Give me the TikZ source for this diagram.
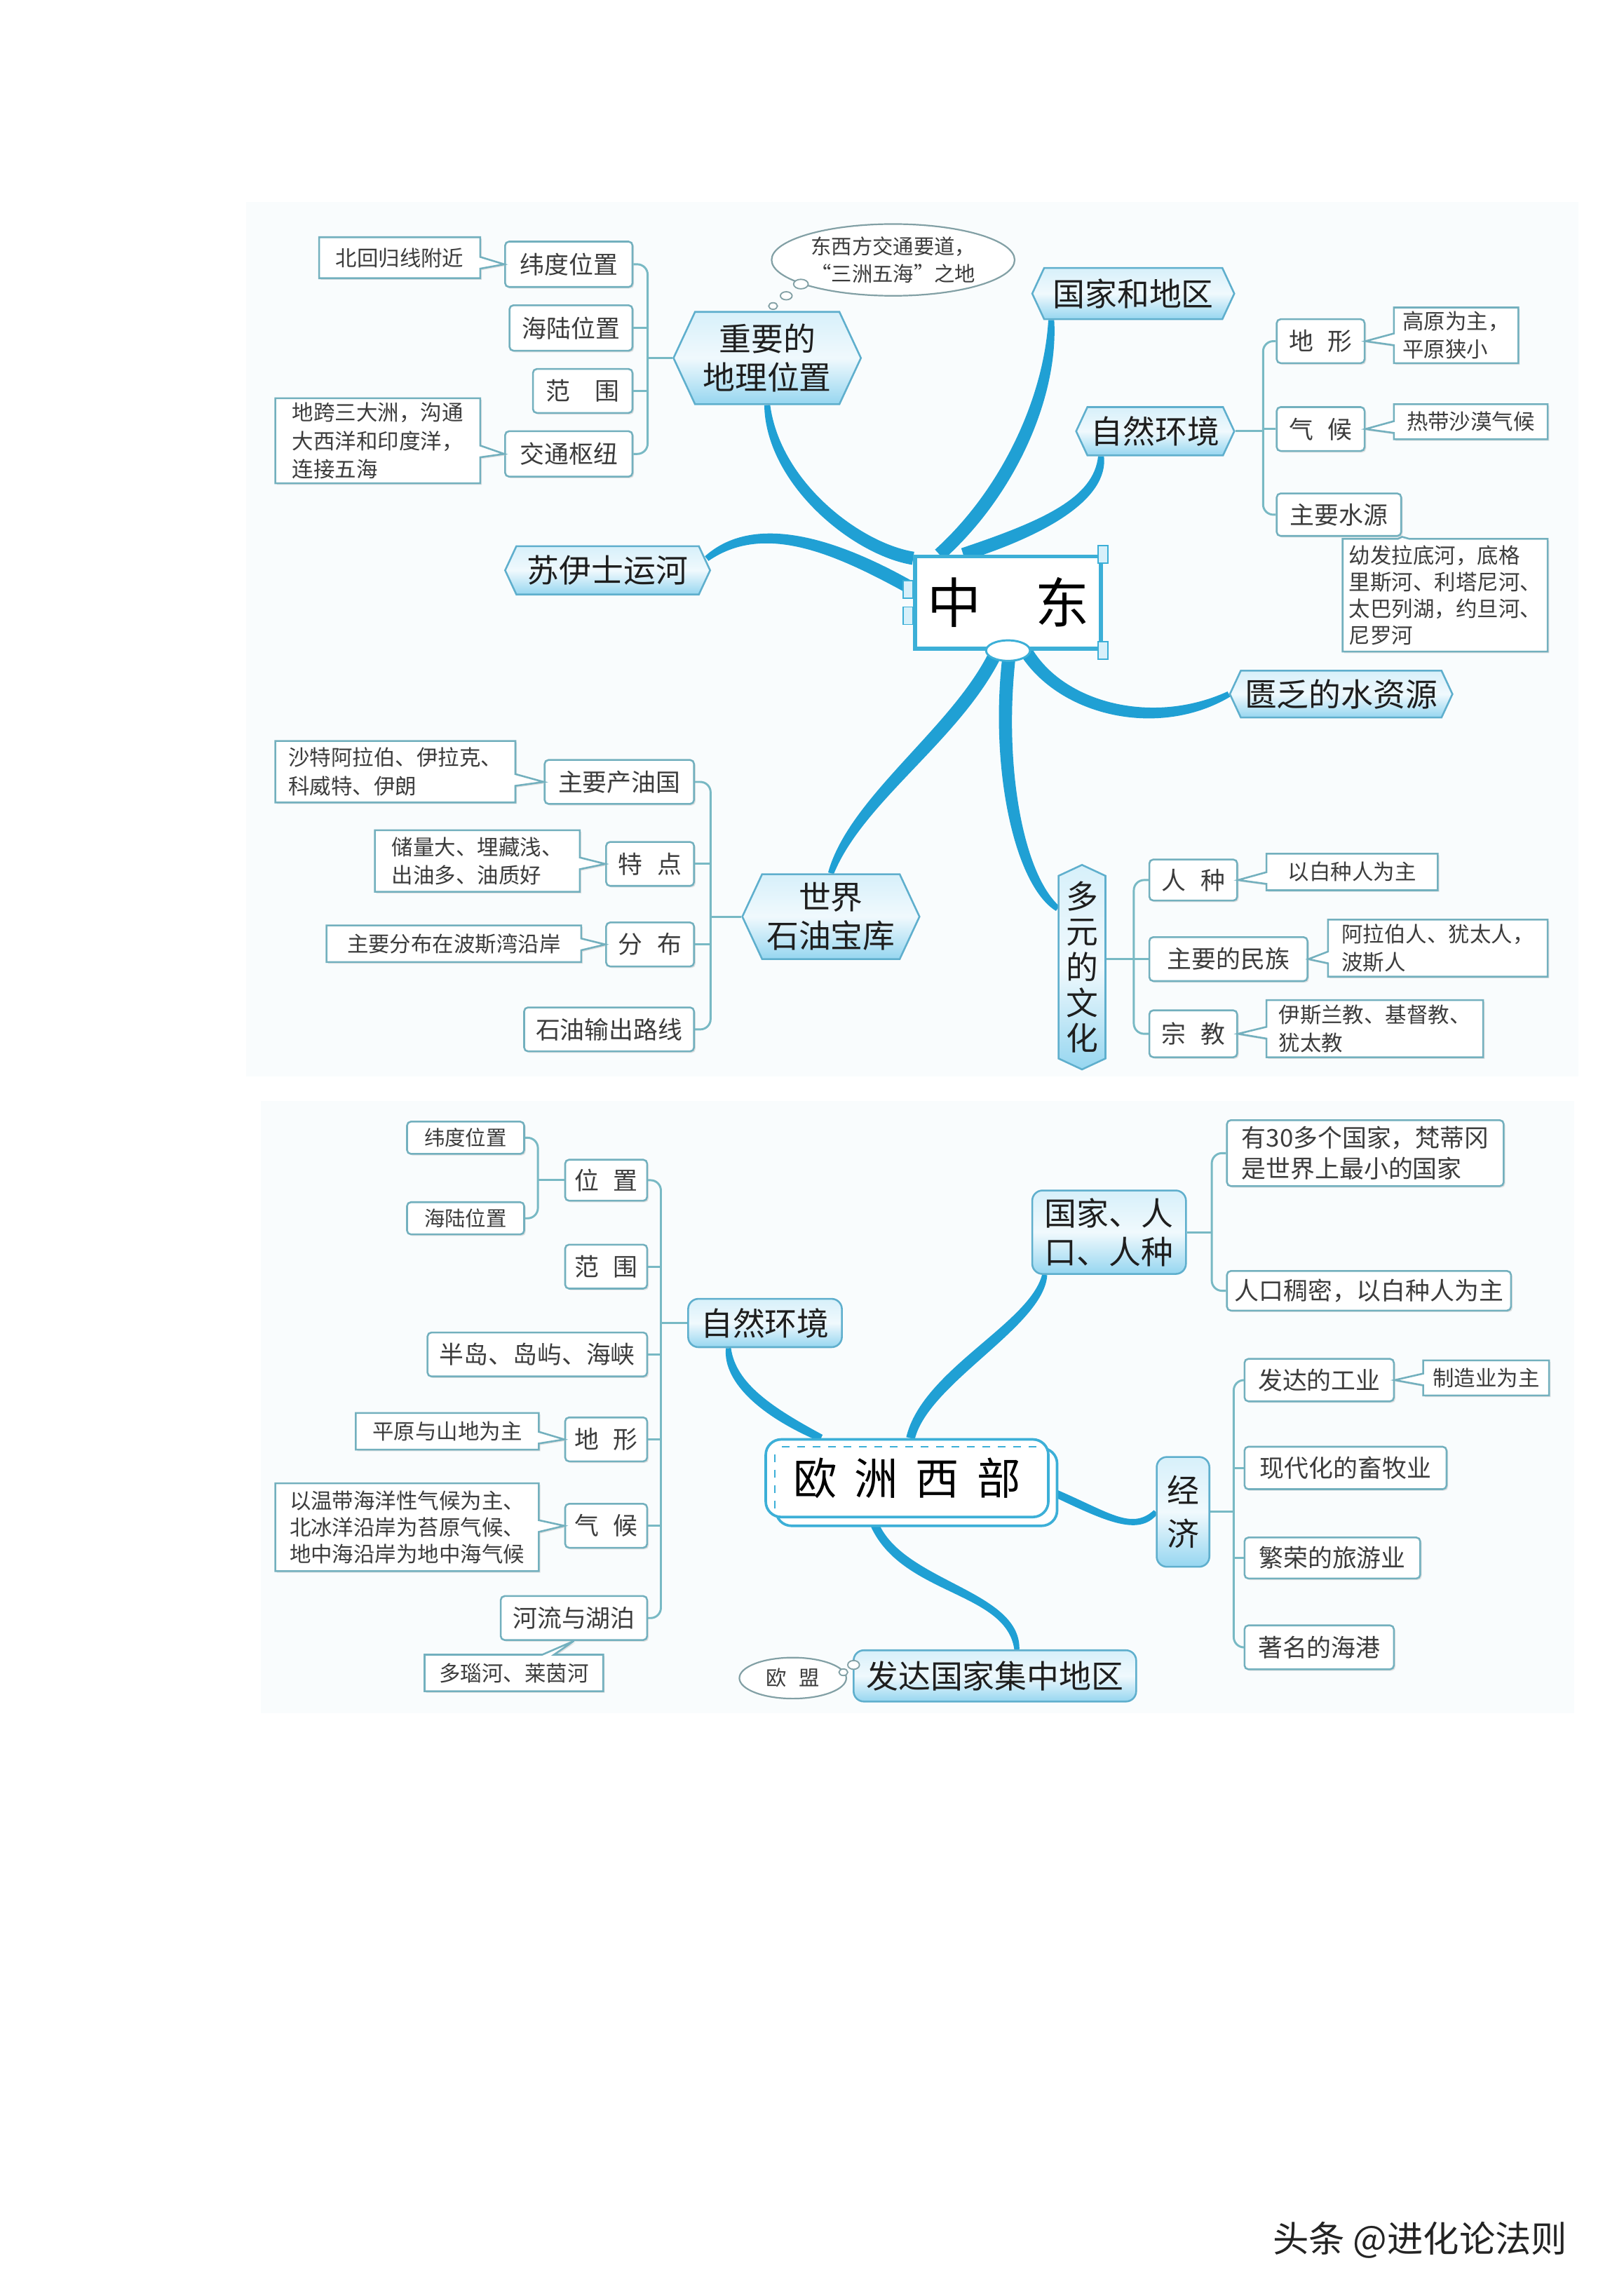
\documentclass[tikz,border=0pt]{standalone}
\usepackage{fontspec}
\newfontfamily\cjk{Noto Sans CJK SC}
\usetikzlibrary{calc,shapes.callouts,shapes.symbols,shapes.geometric,shadows}
\pgfdeclarelayer{bg}
\pgfsetlayers{bg,main}
\newcommand\myfs[2]{\fontsize{#1}{#2}\selectfont}
\definecolor{brc}{RGB}{32,160,212}
\definecolor{bxc}{RGB}{115,176,190}
\definecolor{lnc}{RGB}{120,185,196}
\definecolor{txc}{RGB}{60,60,60}
\definecolor{hdc}{RGB}{30,30,30}
\definecolor{hxd}{RGB}{95,175,205}
\definecolor{hxt}{RGB}{215,240,250}
\definecolor{hxm}{RGB}{240,249,253}
\definecolor{hxb}{RGB}{150,214,240}
\definecolor{cen}{RGB}{60,175,215}
\definecolor{pnl}{RGB}{249,252,253}
\definecolor{bbc}{RGB}{130,160,165}
% tapered branch: A C1 C2 B halfwidthA halfwidthMid halfwidthB
\newcommand\tbranch[7]{%
  \fill[brc] ($(#1)!#5!90:(#2)$) .. controls ($(#2)!#6!90:(#3)$) and ($(#3)!#6!90:(#4)$) .. ($(#4)!#7!-90:(#3)$)
    -- ($(#4)!#7!90:(#3)$) .. controls ($(#3)!#6!-90:(#4)$) and ($(#2)!#6!-90:(#3)$) .. ($(#1)!#5!-90:(#2)$) -- cycle;}
\begin{document}
\begin{tikzpicture}[x=0.02cm,y=-0.02cm,
  mw/.style={minimum width=#1*0.02cm},
  mh/.style={minimum height=#1*0.02cm},
  sbox/.style={rectangle, rounded corners=1.5pt, draw=bxc, line width=0.7pt, fill=white, inner sep=0pt,
    align=center, font=\cjk\myfs{9.5}{12}, text=txc,
    drop shadow={shadow xshift=0.6pt, shadow yshift=-0.6pt, fill=black!22}},
  sboxs/.style={sbox, font=\cjk\myfs{8}{10}},
  cbox/.style={rectangle callout, draw=bxc, line width=0.7pt, fill=white, inner sep=0pt, align=left,
    font=\cjk\myfs{8.3}{11}, text=txc, callout pointer width=0.16cm,
    drop shadow={shadow xshift=0.6pt, shadow yshift=-0.6pt, fill=black!22}},
  hexn/.style={signal, signal to=west and east, signal pointer angle=130, draw=hxd, line width=0.7pt,
    top color=hxt, bottom color=hxb, middle color=hxm, inner sep=0pt, align=center,
    font=\cjk\myfs{12.5}{15}, text=hdc},
  vhex/.style={hexn, signal to=north and south},
  ehead/.style={rectangle, rounded corners=4pt, draw=hxd, line width=0.7pt,
    top color=hxt, bottom color=hxb, middle color=hxm, inner sep=0pt, align=center,
    font=\cjk\myfs{12.5}{15}, text=hdc},
  bubn/.style={ellipse, draw=bbc, line width=0.6pt, fill=white, inner sep=0pt, align=center,
    font=\cjk\myfs{8}{10.5}, text=txc},
  brk/.style={draw=lnc, line width=0.8pt, rounded corners=4pt},
  handle/.style={draw=cen, fill=hxt, line width=0.5pt}]

\useasboundingbox (0,0) rectangle (1109,1568);
\begin{pgfonlayer}{bg}
  \fill[white] (0,0) rectangle (1109,1568);
  \fill[pnl] (168,138) rectangle (1078,735);
  \fill[pnl] (178,752) rectangle (1075,1170);
\end{pgfonlayer}

% ---------------- Middle East ----------------
\node[sbox,mw=87,mh=31] (wd) at (388.5,180.5) {纬度位置};
\node[sbox,mw=84,mh=31] (hl) at (390,224) {海陆位置};
\node[sbox,mw=68,mh=30] (fw) at (398,267) {范\hspace{1em}围};
\node[sbox,mw=87,mh=31] (jt) at (388.5,310) {交通枢纽};
\node[hexn,mw=128,mh=63] (zy) at (524,244.5) {重要的\\地理位置};
\node[cbox,mw=110,mh=28,callout absolute pointer={(wd.west)}] (tA1) at (273,176) {北回归线附近};
\node[cbox,mw=140,mh=58,callout absolute pointer={(jt.west)}] (tA2) at (258,301) {地跨三大洲，沟通\\大西洋和印度洋，\\连接五海};

\node[bubn,mw=166,mh=49] (bub) at (610,177.5) {东西方交通要道，\\“三洲五海”之地};
\draw[draw=bbc,fill=white,line width=0.5pt] (547,194) ellipse [x radius=0.1cm, y radius=0.065cm];
\draw[draw=bbc,fill=white,line width=0.5pt] (537,202) ellipse [x radius=0.08cm, y radius=0.055cm];
\draw[draw=bbc,fill=white,line width=0.5pt] (528,209) ellipse [x radius=0.06cm, y radius=0.045cm];

\node[hexn,mw=138,mh=35] (gd) at (774,200.5) {国家和地区};
\node[hexn,mw=108,mh=33] (zr) at (789,294.5) {自然环境};
\node[sbox,mw=60,mh=30] (dx) at (902,233) {地\hspace{0.6em}形};
\node[sbox,mw=60,mh=30] (qh) at (902,293) {气\hspace{0.6em}候};
\node[sbox,mw=85,mh=29] (sy) at (914.5,351.5) {主要水源};
\node[cbox,mw=85,mh=38,callout absolute pointer={(dx.east)}] (cdx) at (994.5,229) {高原为主，\\平原狭小};
\node[cbox,mw=105,mh=24,callout absolute pointer={(qh.east)}] (cqh) at (1004.5,288) {热带沙漠气候};
\node[cbox,mw=140,mh=77,font=\cjk\myfs{8.3}{10.3},callout absolute pointer={(sy.south east)}] (csy) at (987,406.5)
  {幼发拉底河，底格\\里斯河、利塔尼河、\\太巴列湖，约旦河、\\尼罗河};

\node[hexn,mw=140,mh=33] (suez) at (415,389.5) {苏伊士运河};
\node[rectangle, draw=cen, line width=1.5pt, fill=white, mw=127, mh=63, inner sep=0pt,
  font=\cjk\myfs{21}{23}, text=black] (zd) at (688.5,411.5) {中\hspace{1em}东};
\draw[handle] ($(zd.north east)+(-3.5,-6)$) rectangle ++(7,12);
\draw[handle] ($(zd.south east)+(-3.5,-6)$) rectangle ++(7,12);
\draw[handle] ($(zd.west)+(-7,-15)$) rectangle ++(7,12);
\draw[handle] ($(zd.west)+(-7,3)$) rectangle ++(7,12);
\draw[draw=cen, fill=white, line width=0.8pt] (zd.south) ellipse [x radius=0.3cm, y radius=0.14cm];
\node[hexn,mw=152,mh=32] (kf) at (916,474) {匮乏的水资源};

\node[hexn,mw=121,mh=58] (sj) at (567.5,626) {世界\\石油宝库};
\node[sbox,mw=102,mh=30] (cy) at (423,534) {主要产油国};
\node[sbox,mw=60,mh=30] (td) at (444,590) {特\hspace{0.6em}点};
\node[sbox,mw=60,mh=30] (fb) at (444,645) {分\hspace{0.6em}布};
\node[sbox,mw=116,mh=30] (sc) at (416,703) {石油输出路线};
\node[cbox,mw=164,mh=42,callout absolute pointer={(cy.west)}] (ccy) at (270,527) {沙特阿拉伯、伊拉克、\\科威特、伊朗};
\node[cbox,mw=140,mh=42,callout absolute pointer={(td.west)}] (ctd) at (326,588) {储量大、埋藏浅、\\出油多、油质好};
\node[cbox,mw=174,mh=25,callout absolute pointer={(fb.west)}] (cfb) at (310,644.5) {主要分布在波斯湾沿岸};

\node[vhex,mw=32,mh=135,font=\cjk\myfs{12.5}{13.8}] (dy) at (739,660.5) {多\\元\\的\\文\\化};
\node[sbox,mw=60,mh=28] (rz) at (815,601) {人\hspace{0.6em}种};
\node[sbox,mw=108,mh=30] (mz) at (839,655) {主要的民族};
\node[sbox,mw=60,mh=32] (zj) at (815,706) {宗\hspace{0.6em}教};
\node[cbox,mw=117,mh=25,callout absolute pointer={(rz.east)}] (crz) at (923.5,595.5) {以白种人为主};
\node[cbox,mw=150,mh=39,callout absolute pointer={(mz.east)}] (cmz) at (982,647.5) {阿拉伯人、犹太人，\\波斯人};
\node[cbox,mw=148,mh=39,callout absolute pointer={(zj.east)}] (czj) at (939,702.5) {伊斯兰教、基督教、\\犹太教};

% brackets (Middle East)
\coordinate (kA) at ($(zy.west)+(-17,0)$);
\draw[brk] (wd.east) -| (kA) |- (jt.east);
\draw[brk] (hl.east) -- (hl.east -| kA);
\draw[brk] (fw.east) -- (fw.east -| kA);
\draw[brk] (zy.west) -- (kA);
\coordinate (kB) at ($(zr.east)+(19,0)$);
\draw[brk] (dx.west) -| (kB) |- (sy.west);
\draw[brk] (qh.west) -- (qh.west -| kB);
\draw[brk] (zr.east) -- (kB);
\coordinate (kC) at ($(sj.west)+(-21,0)$);
\draw[brk] (cy.east) -| (kC) |- (sc.east);
\draw[brk] (td.east) -- (td.east -| kC);
\draw[brk] (fb.east) -- (fb.east -| kC);
\draw[brk] (sj.west) -- (kC);
\coordinate (kD) at ($(mz.west)+(-10,0)$);
\draw[brk] (rz.west) -| (kD) |- (zj.west);
\draw[brk] (mz.west) -- (kD);
\draw[brk] (dy.east |- kD) -- (kD);

% ---------------- Western Europe ----------------
\node[rectangle, rounded corners=6pt, draw=cen, line width=1pt, fill=white, mw=192, mh=53, inner sep=0pt] (oz2) at (626,1015.5) {};
\node[rectangle, rounded corners=6pt, draw=cen, line width=1pt, fill=white, mw=193, mh=53, inner sep=0pt,
  font=\cjk\myfs{17}{19}, text=black] (oz) at (619.5,1009.5) {欧\hspace{0.4em}洲\hspace{0.4em}西\hspace{0.4em}部};
\draw[cen, dashed, line width=0.6pt] ($(oz2.north west)+(5,0)$) -- ($(oz.east |- oz2.north)+(-4,0)$);
\draw[cen, dashed, line width=0.6pt] ($(oz2.north west)+(0,5)$) -- ($(oz2.west |- oz.south)+(0,-4)$);

\node[ehead,mw=105,mh=33] (ezr) at (522.5,903.5) {自然环境};
\node[ehead,mw=105,mh=57] (grr) at (757.5,841.5) {国家、人\\口、人种};
\node[ehead,mw=36,mh=75,font=\cjk\myfs{12.5}{17}] (jj) at (808,1032.5) {经\\济};
\node[ehead,mw=193,mh=35] (fd) at (679.5,1144.5) {发达国家集中地区};
\node[bubn,mw=73,mh=28] (om) at (541.5,1146) {欧\hspace{0.6em}盟};
\draw[draw=bbc,fill=white,line width=0.5pt] (583,1137) ellipse [x radius=0.08cm, y radius=0.06cm];
\draw[draw=bbc,fill=white,line width=0.5pt] (576,1142) ellipse [x radius=0.06cm, y radius=0.045cm];

\node[sbox,mw=56,mh=28] (wz) at (414,806) {位\hspace{0.6em}置};
\node[sbox,mw=56,mh=30] (efw) at (414,865) {范\hspace{0.6em}围};
\node[sbox,mw=150,mh=30] (bdx) at (367,925) {半岛、岛屿、海峡};
\node[sbox,mw=56,mh=30] (edx) at (414,983) {地\hspace{0.6em}形};
\node[sbox,mw=56,mh=30] (eqh) at (414,1042) {气\hspace{0.6em}候};
\node[sbox,mw=100,mh=30] (ehl) at (392,1105) {河流与湖泊};
\node[sboxs,mw=80,mh=22] (ewd) at (318,777) {纬度位置};
\node[sboxs,mw=80,mh=22] (ehw) at (318,832) {海陆位置};
\node[cbox,mw=125,mh=25,callout absolute pointer={(edx.west)}] (cedx) at (305.5,977.5) {平原与山地为主};
\node[cbox,mw=180,mh=60,font=\cjk\myfs{8.3}{10.3},callout absolute pointer={(eqh.west)}] (ceqh) at (278,1043)
  {以温带海洋性气候为主、\\北冰洋沿岸为苔原气候、\\地中海沿岸为地中海气候};
\node[cbox,mw=122,mh=25,callout absolute pointer={(ehl.south)}] (cehl) at (351,1142.5) {多瑙河、莱茵河};

\node[sbox,mw=189,mh=45,align=left] (gj1) at (932.5,787.5) {有30多个国家，梵蒂冈\\是世界上最小的国家};
\node[sbox,mw=194,mh=27] (gj2) at (935,881.5) {人口稠密，以白种人为主};
\node[sbox,mw=102,mh=29] (gy) at (901,942.5) {发达的工业};
\node[sbox,mw=138,mh=29] (xm) at (919,1002.5) {现代化的畜牧业};
\node[sbox,mw=120,mh=28] (fr) at (910,1064) {繁荣的旅游业};
\node[sbox,mw=102,mh=30] (hg) at (901,1125) {著名的海港};
\node[cbox,mw=86,mh=24,callout absolute pointer={(gy.east)}] (cgy) at (1015,941) {制造业为主};

% brackets (Europe)
\coordinate (kE) at ($(ezr.west)+(-18,0)$);
\draw[brk] (wz.east) -| (kE) |- (ehl.east);
\foreach \n in {efw,bdx,edx,eqh} \draw[brk] (\n.east) -- (\n.east -| kE);
\draw[brk] (ezr.west) -- (kE);
\coordinate (kF) at ($(wz.west)+(-18,0)$);
\draw[brk] (ewd.east) -| (kF) |- (ehw.east);
\draw[brk] (wz.west) -- (kF);
\coordinate (kG) at ($(grr.east)+(17,0)$);
\draw[brk] (gj1.west) -| (kG) |- (gj2.west);
\draw[brk] (grr.east) -- (kG);
\coordinate (kH) at ($(jj.east)+(16,0)$);
\draw[brk] (gy.west) -| (kH) |- (hg.west);
\draw[brk] (xm.west) -- (xm.west -| kH);
\draw[brk] (fr.west) -- (fr.west -| kH);
\draw[brk] (jj.east) -- (kH);

% watermark
\node[font=\cjk\myfs{14}{16}, text={rgb,255:red,35;green,35;blue,35}] (wm) at (970,1530) {头条 @进化论法则};

% ---------------- branches ----------------
\coordinate (gdB) at ($(gd.south)+(-56,0)$);
\coordinate (zrB) at ($(zr.south)+(-37,0)$);
\coordinate (suB) at ($(suez.east)+(-3,-8)$);
\coordinate (dyB) at ($(dy.west)+(0,-40)$);
\coordinate (ezB) at ($(ezr.south)+(-25,0)$);
\coordinate (grB) at ($(grr.south)+(-44,0)$);
\coordinate (fdB) at ($(fd.north)+(15,0)$);
\begin{pgfonlayer}{bg}
  \tbranch{zd.155}{585,375}{528,330}{zy.south}{0.09cm}{0.1cm}{0.04cm}
  \tbranch{zd.145}{690,335}{718,270}{gdB}{0.09cm}{0.1cm}{0.04cm}
  \tbranch{zd.133}{715,360}{752,340}{zrB}{0.09cm}{0.1cm}{0.04cm}
  \tbranch{zd.172}{575,375}{520,352}{suB}{0.09cm}{0.1cm}{0.04cm}
  \tbranch{zd.-70}{725,485}{790,500}{kf.west}{0.09cm}{0.1cm}{0.04cm}
  \tbranch{zd.-103}{655,500}{585,545}{sj.north}{0.09cm}{0.1cm}{0.04cm}
  \tbranch{zd.-88}{680,520}{695,600}{dyB}{0.09cm}{0.1cm}{0.04cm}
  \tbranch{oz.155}{525,965}{498,945}{ezB}{0.05cm}{0.09cm}{0.035cm}
  \tbranch{oz.85}{632,940}{708,905}{grB}{0.06cm}{0.1cm}{0.035cm}
  \tbranch{oz.-5}{755,1035}{775,1048}{jj.west}{0.05cm}{0.07cm}{0.035cm}
  \tbranch{oz.-131}{612,1085}{692,1085}{fdB}{0.06cm}{0.1cm}{0.035cm}
\end{pgfonlayer}
\end{tikzpicture}
\end{document}
